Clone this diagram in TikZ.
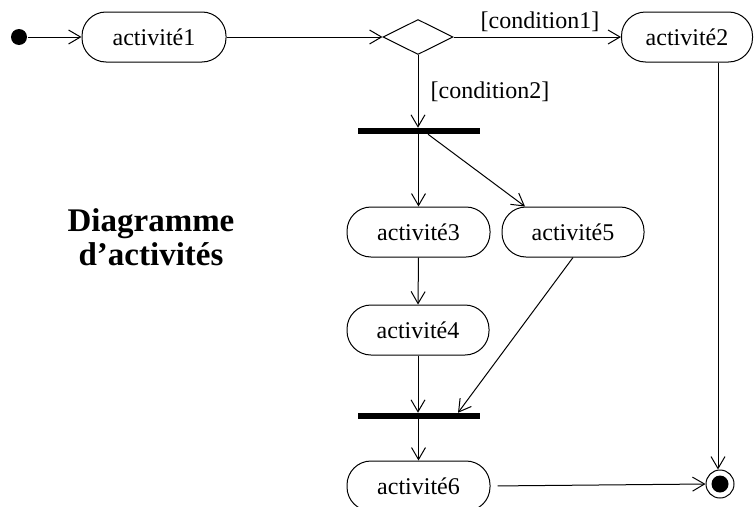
\documentclass[tikz,border=0pt]{standalone}
\usepackage{fontspec}
\setmainfont{Liberation Serif}
\usetikzlibrary{arrows.meta,shapes.geometric}
\tikzset{
  act/.style={draw, rectangle, rounded corners=24pt, minimum height=50pt, inner sep=0pt, font=\fontsize{24}{27}\selectfont},
  bar/.style={fill=black, rectangle, minimum width=122pt, minimum height=5.5pt, inner sep=0pt},
  flow/.style={-{Straight Barb[length=12pt,width=14pt,line width=1pt]}, line width=1pt},
  lbl/.style={font=\fontsize{24}{27}\selectfont, inner sep=0pt},
}
\begin{document}
\begin{tikzpicture}[x=1pt,y=-1pt, line width=1pt]
\useasboundingbox (0,0) rectangle (754,506);
\node[circle, fill=black, minimum size=16pt, inner sep=0pt] (start) at (19,37) {};
\node[act, minimum width=144pt] (a1) at (154,37) {activité1};
\node[draw, diamond, aspect=2, minimum width=70pt, minimum height=35pt, inner sep=0pt] (dia) at (418,37) {};
\node[act, minimum width=131pt] (a2) at (687,37) {activité2};
\node[bar] (f1) at (419,131) {};
\node[act, minimum width=143pt] (a3) at (418.5,232) {activité3};
\node[act, minimum width=142pt] (a5) at (573,232) {activité5};
\node[act, minimum width=142pt] (a4) at (418,330) {activité4};
\node[bar] (f2) at (419,416) {};
\node[act, minimum width=143pt] (a6) at (418.5,486) {activité6};
\node[circle, draw, minimum size=28pt, inner sep=0pt] (fin) at (720,484) {};
\node[circle, fill=black, minimum size=17pt, inner sep=0pt] (finin) at (fin.center) {};
\node[lbl] (c1) at (540,22) {[condition1]};
\node[lbl] (c2) at (490,92) {[condition2]};
\node[align=center, font=\bfseries\fontsize{33}{34}\selectfont, inner sep=0pt] (title) at (151,237) {Diagramme\\d’activités};

\draw[flow] (start) -- (a1.west);
\draw[flow] (a1.east) -- (dia.west);
\draw[flow] (dia.east) -- (a2.west);
\draw[flow] (dia.south) -- (dia.south |- f1.north);
\draw[flow] (f1.south -| a3.north) -- (a3.north);
\draw[flow] ([xshift=9pt]f1.south) -- (a5.north -| 525,0);
\draw[flow] (a3.south) -- (a4.north);
\draw[flow] (a4.south) -- (a4.south |- f2.north);
\draw[flow] (a5.south) -- (f2.north -| 458,0);
\draw[flow] (f2.south -| a6.north) -- (a6.north);
\draw[flow, shorten <=7pt] (a6.east) -- (fin.west);
\draw[flow] (a2.south -| 718,0) -- (fin.north -| 718,0);
\end{tikzpicture}
\end{document}
